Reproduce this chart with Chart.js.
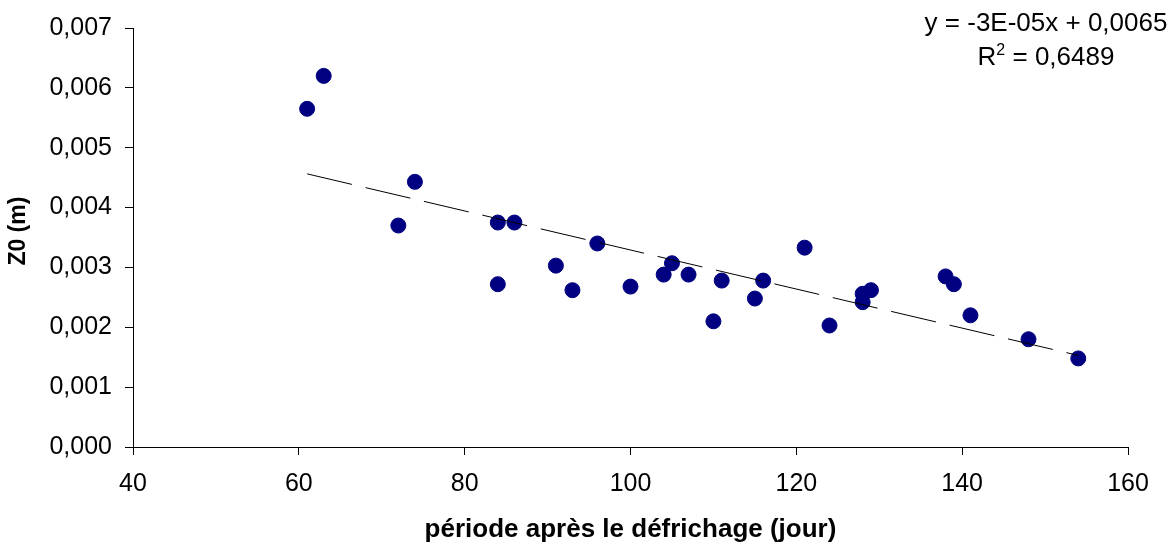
<!DOCTYPE html>
<html>
<head>
<meta charset="utf-8">
<script src="https://cdn.jsdelivr.net/npm/chart.js@4"></script>
<style>
  html, body { margin: 0; padding: 0; background: #fff; }
  #wrap { width: 1176px; height: 548px; }
</style>
</head>
<body>
<div id="wrap"><canvas id="z0Chart" width="1176" height="548"></canvas></div>
<script>
// jours après le défrichage
const days = [61, 63, 72, 74, 84, 84, 86, 91, 93, 96, 100, 104, 105, 107, 110, 111,
              115, 116, 121, 124, 128, 128, 129, 138, 139, 141, 148, 154];
// Z0 (m)
const z0 = [0.00565, 0.0062, 0.0037, 0.00443, 0.00375, 0.00272, 0.00375, 0.00303, 0.00262, 0.0034,
            0.00268, 0.00288, 0.00307, 0.00288, 0.0021, 0.00278, 0.00248, 0.00278, 0.00333, 0.00203,
            0.00242, 0.00256, 0.00262, 0.00285, 0.00272, 0.0022, 0.0018, 0.00148];
const xTicks = [40, 60, 80, 100, 120, 140, 160];
const yTicks = [0, 0.001, 0.002, 0.003, 0.004, 0.005, 0.006, 0.007];
const equationLines = ['y = -3E-05x + 0,0065', 'R² = 0,6489'];

const FONT = "'Liberation Sans', Arial, sans-serif";

// linear least squares, as Excel's trendline
function linearFit(xs, ys) {
  const n = xs.length;
  let sx = 0, sy = 0, sxx = 0, sxy = 0;
  for (let i = 0; i < n; i++) {
    sx += xs[i]; sy += ys[i]; sxx += xs[i] * xs[i]; sxy += xs[i] * ys[i];
  }
  const slope = (n * sxy - sx * sy) / (n * sxx - sx * sx);
  return { slope, intercept: (sy - slope * sx) / n };
}
const fit = linearFit(days, z0);
const xMin = Math.min(...days), xMax = Math.max(...days);
const trend = [xMin, xMax].map(x => ({ x, y: fit.slope * x + fit.intercept }));

const points = days.map((d, i) => ({ x: d, y: z0[i] }));

const equationPlugin = {
  id: 'equation',
  afterDraw(chart) {
    const c = chart.ctx;
    const cx = 1046;
    c.save();
    c.fillStyle = '#000';
    c.textBaseline = 'middle';
    c.textAlign = 'center';
    c.font = '26px ' + FONT;
    c.fillText(equationLines[0], cx, 24);
    // R² line, with a raised 2
    const parts = equationLines[1].split('²');
    c.font = '26px ' + FONT;
    const wHead = c.measureText(parts[0]).width;
    const wTail = c.measureText(parts[1]).width;
    c.font = '16px ' + FONT;
    const wSup = c.measureText('2').width;
    let x = cx - (wHead + wSup + wTail) / 2;
    c.textAlign = 'left';
    c.font = '26px ' + FONT;
    c.fillText(parts[0], x, 58);
    x += wHead;
    c.font = '16px ' + FONT;
    c.fillText('2', x, 51);
    x += wSup;
    c.font = '26px ' + FONT;
    c.fillText(parts[1], x, 58);
    c.restore();
  }
};

new Chart(document.getElementById('z0Chart'), {
  type: 'scatter',
  data: {
    datasets: [
      {
        type: 'line',
        data: trend,
        borderColor: '#000',
        borderWidth: 1,
        borderDash: [46, 14],
        pointRadius: 0,
        fill: false,
        order: 0
      },
      {
        data: points,
        backgroundColor: '#000080',
        borderColor: '#000080',
        pointRadius: 7.5,
        pointHoverRadius: 7.5,
        order: 1
      }
    ]
  },
  options: {
    responsive: false,
    animation: false,
    devicePixelRatio: 1,
    layout: { padding: { left: 0, top: 27, right: 48, bottom: 0 } },
    plugins: { legend: { display: false }, tooltip: { enabled: false } },
    scales: {
      x: {
        type: 'linear',
        min: 40,
        max: 160,
        afterBuildTicks: axis => { axis.ticks = xTicks.map(v => ({ value: v })); },
        afterFit: axis => { axis.height = 101; },
        grid: { drawOnChartArea: false, drawTicks: true, tickLength: 8, color: '#000' },
        border: { display: true, color: '#000', width: 1 },
        ticks: { color: '#000', font: { family: FONT, size: 25 }, padding: 14, maxRotation: 0 },
        title: {
          display: true,
          text: 'période après le défrichage (jour)',
          color: '#000',
          font: { family: FONT, size: 26, weight: 'bold' },
          padding: { top: 0, bottom: 3 }
        }
      },
      y: {
        min: 0,
        max: 0.007,
        afterBuildTicks: axis => { axis.ticks = yTicks.map(v => ({ value: v })); },
        afterFit: axis => { axis.width = 133; },
        grid: { drawOnChartArea: false, drawTicks: true, tickLength: 8, color: '#000' },
        border: { display: true, color: '#000', width: 1 },
        ticks: {
          color: '#000',
          font: { family: FONT, size: 25 },
          padding: 13,
          callback: v => v.toFixed(3).replace('.', ',')
        },
        title: {
          display: true,
          text: '  Z0 (m)',
          color: '#000',
          font: { family: FONT, size: 23, weight: 'bold' },
          padding: { top: 5, bottom: 0 }
        }
      }
    }
  },
  plugins: [equationPlugin]
});
</script>
</body>
</html>
